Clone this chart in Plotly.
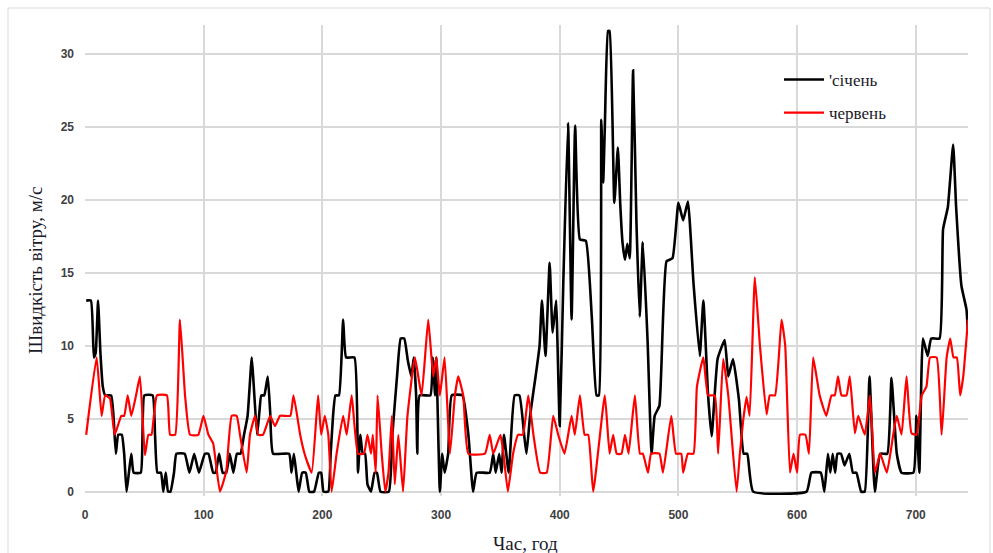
import plotly.graph_objects as go

# січень (January) – hour, wind speed m/s
jan_hours = [1, 5, 7.5, 9, 11, 13, 15, 17, 22, 24, 26, 28, 31, 33, 35, 37, 39, 41, 47, 50, 57, 59, 61, 64, 66, 68, 70, 72, 75, 77, 84, 88, 92, 96, 101, 104, 108, 110,
             113, 116, 119, 122, 125, 128, 131, 134, 137, 140.5, 142, 145, 147, 148.5, 151, 154, 156, 158.5, 172, 174, 176, 178, 180, 183, 186, 189, 193, 197, 199, 201, 205,
             207, 209, 211, 214, 217.5, 220, 227, 230, 232, 234, 236, 238, 241, 244, 246, 249, 256, 259, 263, 266, 269, 272, 275, 277, 279, 280, 282, 291, 293, 295, 296,
             299, 301, 303, 306, 309, 318, 323, 327, 330, 341, 344, 346, 349, 351, 353, 357, 362, 366, 370, 372, 375, 380, 383, 385, 388, 391.5, 394, 397, 398, 400,
             403, 407, 410, 413, 417, 422, 427, 431, 433, 435, 436.6, 438, 440.7, 442, 446, 449, 451, 453, 455, 457, 459, 461.8, 464.6, 467.4, 470, 474, 477.4, 480,
             484, 490, 495, 500, 504, 508, 512.7, 518, 521, 525, 528, 533, 539, 542, 546, 551, 555, 558, 563, 608, 612, 620, 623, 626, 628, 630, 632, 634, 637, 640,
             644, 647, 650, 654, 657, 661, 665.5, 670, 676, 679.5, 684, 688, 698, 700.5, 703, 706, 710, 713, 720, 723, 727, 731.5, 734, 738.5, 742.7, 744]
jan_speed = [13.1, 13.1, 9.2, 9.5, 13.1, 9.5, 7.2, 6.6, 6.6, 5.2, 2.6, 3.9, 3.9, 2.6, 0, 1.3, 2.6, 1.3, 1.3, 6.6, 6.6, 3.9, 1.3, 1.3, 0, 1.3, 0, 0, 1.3, 2.6, 2.6, 1.3, 2.6, 1.3, 2.6, 2.6, 1.3, 1.3,
             2.6, 1.3, 1.3, 2.6, 1.3, 2.6, 2.6, 3.9, 5.2, 9.2, 7.5, 3.9, 5.5, 6.6, 6.6, 7.9, 5.5, 2.6, 2.6, 1.3, 2.6, 1.3, 0, 1.3, 1.3, 0, 0, 1.3, 1.3, 0, 0,
             2.6, 5.2, 6.6, 6.6, 11.8, 9.2, 9.2, 1.3, 3.9, 2.6, 2.6, 0.5, 0, 1.3, 1.3, 0, 0, 3.9, 8.0, 10.5, 10.5, 9.0, 7.9, 9.2, 6.6, 2.6, 6.6, 6.6, 9.2, 6.6, 9.2,
             0, 2.6, 1.3, 2.6, 6.6, 6.6, 3.9, 0, 1.3, 1.3, 2.6, 1.3, 2.6, 1.3, 3.9, 1.3, 6.6, 6.6, 3.9, 2.6, 5.2, 8.1, 10.0, 13.1, 9.3, 15.7, 10.9, 13.1, 10.5, 4.5,
             14.3, 25.3, 11.8, 25.1, 17.3, 17.2, 12.0, 6.6, 6.6, 25.5, 21.2, 25.0, 31.6, 31.6, 19.8, 23.6, 19.7, 17.0, 15.9, 17.0, 16.0, 28.9, 18.6, 12.0, 17.1, 10.4, 2.6, 5.2,
             5.9, 15.8, 16.0, 19.8, 18.6, 19.9, 14.3, 9.3, 13.1, 6.6, 3.8, 9.1, 10.4, 7.9, 9.1, 6.3, 2.6, 2.6, 0, 0, 1.3, 1.3, 0, 2.6, 1.3, 2.6, 1.3, 2.6, 2.6, 1.8,
             2.6, 1.3, 1.3, 0, 0, 7.9, 0, 2.6, 2.6, 7.8, 2.6, 1.3, 1.3, 5.2, 1.3, 10.5, 9.3, 10.5, 10.5, 18.0, 19.5, 23.8, 19.5, 14.1, 12.5, 10.8]

# червень (June) – hour, wind speed m/s
jun_hours = [1, 9.8, 14, 17, 21, 25, 30.6, 33, 36, 39, 43, 46.3, 50.5, 53.4, 56, 60.6, 69, 71.7, 76, 80, 84.3, 88.5, 95.5, 99.8, 104, 108, 113.7, 119, 123.6, 127.8,
             130.6, 136.2, 139, 143.3, 146, 150, 156, 160, 164.4, 173, 175.7, 181.3, 185, 191, 196.4, 199, 202, 205, 207.8, 212, 217.5, 220.5, 224.7, 230, 235, 238, 241,
             242.5, 245, 246.5, 250, 253, 255.7, 258.6, 261, 264, 268, 271.7, 278, 283.6, 289.2, 293.4, 296, 299, 303, 307.5, 311.7, 314.5, 318.7, 323, 337, 341, 344,
             350, 352.6, 356.3, 360.7, 364.9, 369, 373.5, 378, 383.5, 389, 394.5, 398.7, 404, 410, 412.7, 417, 421, 424, 428.2, 438, 442, 445, 448, 452, 455, 458,
             463.3, 467.6, 470, 474.4, 477, 484, 487, 494, 498, 502.4, 504, 508, 512.7, 515.6, 521, 525, 530.6, 533.5, 537.7, 542, 549, 551.8, 554.6, 557.4, 560,
             564.4, 568.7, 574.3, 577, 581.4, 586.9, 590, 594, 597, 600, 602.4, 607, 610, 613.5, 619, 624.6, 629, 631.7, 634.5, 637.4, 641.6, 644.4, 648.7, 651.5,
             657, 661.4, 665.6, 670, 675.6, 681, 684, 688, 692.2, 696.4, 700.6, 705, 709, 712, 717.6, 721.8, 726, 729, 731.8, 734.6, 737.4, 740, 744]
jun_speed = [3.9, 9.2, 5.2, 6.6, 6.4, 3.9, 5.2, 5.2, 6.6, 5.2, 6.6, 7.9, 2.5, 3.9, 3.9, 6.6, 6.6, 3.9, 3.9, 11.8, 6.6, 3.9, 3.9, 5.2, 3.9, 3.3, 0, 1.4, 5.2, 5.2,
             3.9, 1.3, 3.9, 5.2, 3.9, 3.9, 5.2, 4.5, 5.2, 5.2, 6.6, 3.9, 2.6, 1.3, 6.6, 3.9, 5.2, 3.9, 0, 2.6, 5.2, 3.9, 6.6, 2.6, 2.6, 3.9, 2.6,
             3.9, 1.3, 6.6, 2.6, 0, 1.3, 5.2, 0.5, 3.9, 0, 5.2, 9.2, 6.6, 11.8, 7.9, 9.2, 6.6, 9.2, 2.6, 6.6, 7.9, 6.6, 2.6, 2.6, 3.9, 2.6,
             3.9, 2.6, 0, 2.6, 3.9, 3.9, 6.6, 3.8, 1.3, 1.3, 5.2, 3.9, 2.6, 5.2, 3.9, 6.6, 3.9, 3.9, 0, 6.6, 2.6, 3.9, 2.6, 2.6, 3.9, 2.6,
             6.6, 2.6, 2.6, 1.3, 2.6, 2.6, 1.3, 5.2, 2.6, 2.6, 1.3, 2.6, 2.6, 7.2, 9.2, 6.6, 6.6, 2.6, 9.1, 6.6, 0, 2.6, 4.9, 6.5, 5.2,
             14.7, 10.0, 5.3, 6.6, 6.6, 11.8, 10.0, 1.3, 2.6, 1.3, 3.9, 3.9, 2.6, 9.2, 6.6, 5.2, 6.6, 6.6, 7.9, 6.6, 6.6, 7.9, 4.0, 5.2,
             3.9, 6.6, 1.3, 2.6, 1.3, 3.9, 5.2, 3.9, 7.9, 4.0, 3.9, 6.6, 7.2, 9.2, 9.2, 3.9, 9.2, 10.5, 9.2, 9.2, 6.6, 7.9, 11.8]

x_ticks = [0, 100, 200, 300, 400, 500, 600, 700]
y_ticks = [0, 5, 10, 15, 20, 25, 30]

fig = go.Figure()
fig.add_trace(go.Scatter(x=jan_hours, y=jan_speed, mode="lines", name="'січень",
                         legendgroup="a",
                         line=dict(color="#000000", width=2.6, shape="spline", smoothing=0.4)))
fig.add_trace(go.Scatter(x=jun_hours, y=jun_speed, mode="lines", name="червень",
                         legendgroup="b",
                         line=dict(color="#ff0000", width=2.2, shape="spline", smoothing=0.4)))

serif = "Liberation Serif, Times New Roman, serif"
tickfont = dict(family="Liberation Sans, Arial, sans-serif", size=12, color="#404040", weight="bold")

# plot area in pixels: left 85, right 968, top 25, bottom 496
PL, PR, PT, PB = 85, 968, 25, 496
def px(x):
    return (x - PL) / (PR - PL)
def py(y):
    return (PB - y) / (PB - PT)

fig.update_layout(
    width=993, height=553,
    margin=dict(l=PL, r=993 - PR, t=PT, b=553 - PB),
    paper_bgcolor="white", plot_bgcolor="white",
    showlegend=True,
    legend=dict(x=px(779), y=py(62), xanchor="left", yanchor="top",
                font=dict(family=serif, size=17, color="#1a1a2a"),
                bgcolor="rgba(0,0,0,0)", tracegroupgap=8, itemwidth=40),
    xaxis=dict(range=[0, 744], tickvals=x_ticks, ticktext=[str(v) for v in x_ticks],
               showgrid=True, gridcolor="#d9d9d9", gridwidth=1.5, zeroline=False,
               showline=False, ticks="", tickfont=tickfont, ticklabelstandoff=10),
    yaxis=dict(range=[-0.3, 32], tickvals=y_ticks, ticktext=[str(v) for v in y_ticks],
               showgrid=True, gridcolor="#d9d9d9", gridwidth=1.5, zeroline=False,
               showline=False, ticks="", tickfont=tickfont, ticklabelstandoff=10),
    annotations=[
        dict(text="Швидкість вітру, м/с", xref="paper", yref="paper",
             x=px(35), y=py(270), textangle=-90, showarrow=False,
             xanchor="center", yanchor="middle",
             font=dict(family=serif, size=19, color="#1a1a2a")),
        dict(text="Час, год", xref="paper", yref="paper",
             x=px(525), y=py(543), showarrow=False,
             xanchor="center", yanchor="middle",
             font=dict(family=serif, size=19, color="#1a1a2a")),
    ],
    shapes=[dict(type="rect", xref="paper", yref="paper",
                 x0=px(8), x1=px(990), y0=py(560), y1=py(8),
                 line=dict(color="#d9d9d9", width=1), fillcolor="rgba(0,0,0,0)", layer="below")],
)

fig.write_html("out.html")
